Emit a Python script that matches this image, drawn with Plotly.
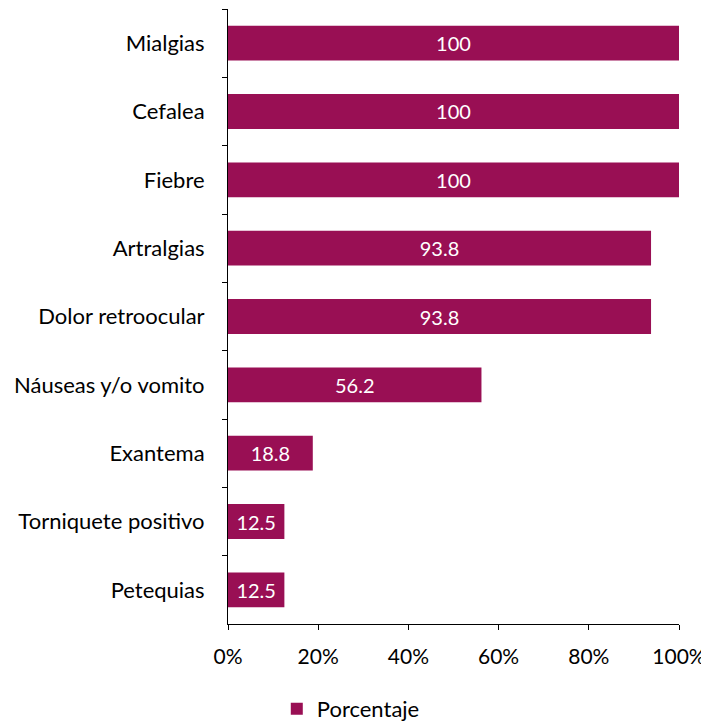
import plotly.graph_objects as go

categories = ["Mialgias", "Cefalea", "Fiebre", "Artralgias", "Dolor retroocular",
              "Náuseas y/o vomito", "Exantema", "Torniquete positivo", "Petequias"]
values = [100, 100, 100, 93.8, 93.8, 56.2, 18.8, 12.5, 12.5]
x_ticks = [0, 20, 40, 60, 80, 100]
x_tick_labels = ["0%", "20%", "40%", "60%", "80%", "100%"]

color = "#990F54"
font_family = "Lato, Liberation Sans, Arial, sans-serif"

fig = go.Figure()
fig.add_trace(go.Bar(
    y=categories, x=values, orientation="h", name="Porcentaje",
    marker=dict(color=color, line=dict(width=0)),
    text=[f"{v:g}" for v in values], textposition="inside",
    insidetextanchor="middle", constraintext="none",
    textfont=dict(color="white", size=20, family=font_family),
))

fig.update_layout(
    width=701, height=716,
    margin=dict(l=220, r=30, t=1, b=100),
    plot_bgcolor="white", paper_bgcolor="white",
    font=dict(family=font_family, size=22, color="#000000"),
    showlegend=True,
    legend=dict(orientation="h", xref="container", yref="container",
                x=0.489, xanchor="center", y=0.021, yanchor="middle",
                font=dict(size=22)),
    bargap=0.49,
)
fig.update_xaxes(range=[0, 100], tickvals=x_ticks, ticktext=x_tick_labels,
                 showgrid=False, zeroline=False, showline=True, linecolor="black",
                 linewidth=1, ticks="outside", ticklen=5, tickcolor="black",
                 ticklabelstandoff=9, tickfont=dict(size=21))
fig.update_yaxes(categoryorder="array", categoryarray=categories, autorange="reversed",
                 showgrid=False, showline=True, linecolor="black", linewidth=1,
                 ticks="outside", tickson="boundaries", ticklen=5, tickcolor="black",
                 ticklabelstandoff=18)

fig.write_html("out.html")
